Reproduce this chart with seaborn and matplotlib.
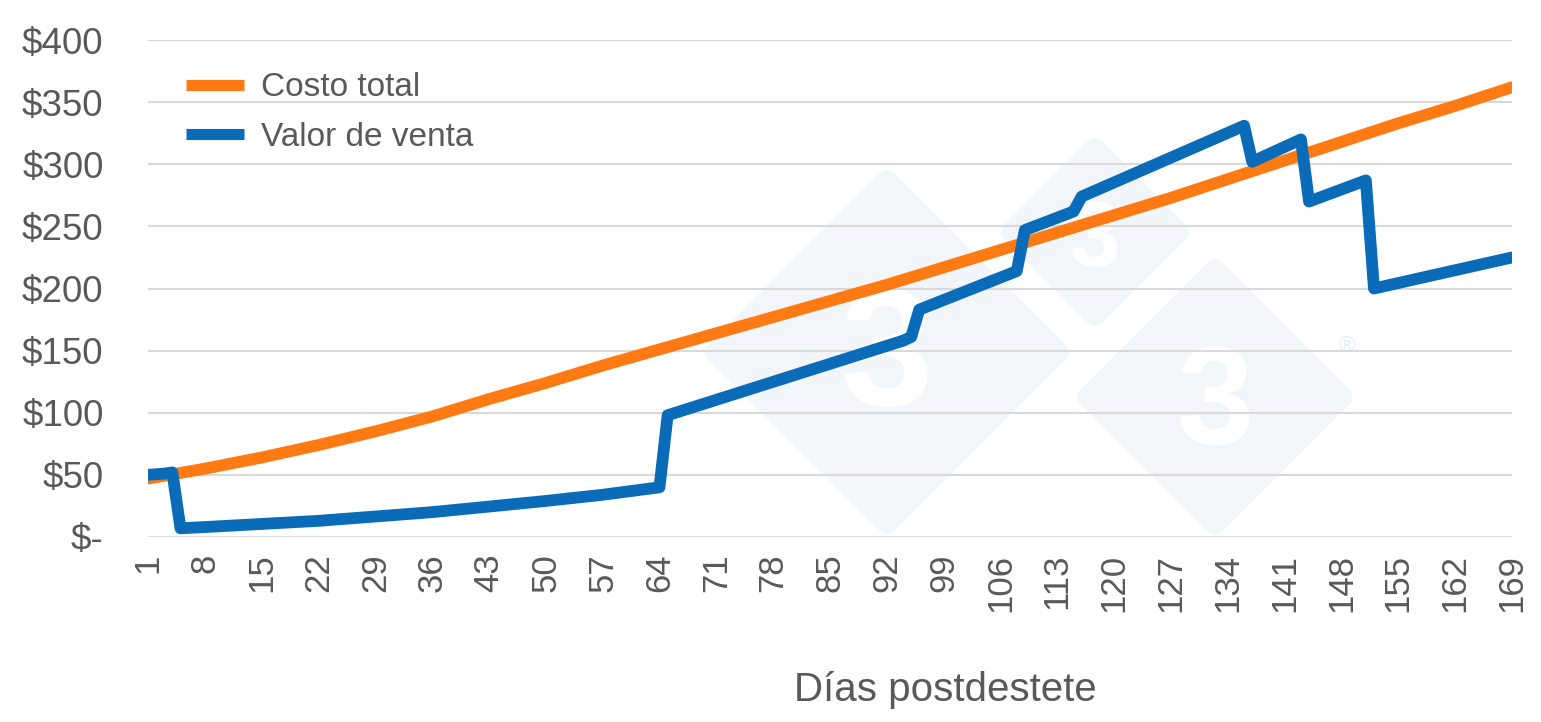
"""Costo total vs. valor de venta por día postdestete."""

import matplotlib
matplotlib.use('Agg')
import matplotlib.pyplot as plt
import matplotlib.patches as patches
import seaborn as sns

# ── Data ──────────────────────────────────────────────────────────────────────

COST_DAYS = [1, 8, 15, 22, 29, 36, 43, 50, 57, 64, 71, 78, 85, 92, 99, 106,
             113, 120, 127, 134, 141, 148, 155, 162, 169]
COST_VALUES = [47, 55, 64, 74, 85, 97, 111, 124, 138, 151, 164, 177, 190, 203,
               217, 231, 245, 259, 273, 288, 303, 318, 333, 347, 362]

SALE_DAYS = [1, 3, 4, 5, 8, 22, 36, 50, 57, 64, 65, 94, 95, 96, 108, 109,
             115, 116, 136, 137, 143, 144, 151, 152, 169]
SALE_VALUES = [50, 51, 52, 7, 8, 13, 20, 29, 34, 40, 98, 158, 161, 183, 214,
               247, 262, 274, 331, 302, 320, 270, 287, 200, 225]

X_TICKS = list(range(1, 170, 7))
Y_TICKS = [0, 50, 100, 150, 200, 250, 300, 350, 400]
Y_LABELS = ['$-', '$50', '$100', '$150', '$200', '$250', '$300', '$350', '$400']

ORANGE = '#FF7A12'
BLUE = '#0A6CB8'
TEXT = '#595959'
GRID = '#D9D9D9'

# ── Plot ──────────────────────────────────────────────────────────────────────

sns.set_theme(style='white')
plt.rcParams['font.family'] = ['Liberation Sans', 'DejaVu Sans']

fig = plt.figure(figsize=(15.41, 7.22), dpi=100)
ax = fig.add_axes([148 / 1541, 1 - 537 / 722, (1512 - 148) / 1541, (537 - 40) / 722])
ax.patch.set_alpha(0)
ax.set_zorder(5)

# faint "333" watermark behind the plot area
def _diamond(cx, cy, half):
    pts = [((cx - half) / 100, (722 - cy) / 100), (cx / 100, (722 - cy + half) / 100),
           ((cx + half) / 100, (722 - cy) / 100), (cx / 100, (722 - cy - half) / 100)]
    fig.patches.append(patches.Polygon(pts, closed=True, transform=fig.dpi_scale_trans,
                                       facecolor='#F2F6FA', edgecolor='#F2F6FA',
                                       linewidth=14, joinstyle='round', zorder=0))

for cx, cy, half, fs in [(887, 352, 172, 120), (1095, 232, 84, 66), (1215, 397, 128, 100)]:
    _diamond(cx, cy, half)
    fig.text(cx / 1541, 1 - (cy + 10) / 722, '3', color='white', fontsize=fs,
             fontweight='bold', ha='center', va='center', zorder=1)
fig.text(1347 / 1541, 1 - 346 / 722, '®', color='#E8EEF4', fontsize=16,
         ha='center', va='center', zorder=1)

ax.set_axisbelow(True)
ax.yaxis.grid(True, color=GRID, linewidth=1.5)
ax.xaxis.grid(False)

sns.lineplot(x=COST_DAYS, y=COST_VALUES, color=ORANGE, linewidth=8.5,
             label='Costo total', ax=ax, solid_joinstyle='round')
sns.lineplot(x=SALE_DAYS, y=SALE_VALUES, color=BLUE, linewidth=8.5,
             label='Valor de venta', ax=ax, solid_joinstyle='round')

ax.set_xlim(1, 169)
ax.set_ylim(0, 400)
ax.set_xticks(X_TICKS)
ax.set_xticklabels([str(d) for d in X_TICKS], rotation=90)
ax.set_yticks(Y_TICKS)
ax.set_yticklabels(Y_LABELS)
ax.tick_params(axis='both', length=0, labelcolor=TEXT)
ax.tick_params(axis='x', pad=12, labelsize=25)
ax.tick_params(axis='y', pad=32, labelsize=26.5)

for s in ax.spines.values():
    s.set_visible(False)

ax.set_xlabel('Días postdestete', fontsize=29, color=TEXT)
ax.xaxis.set_label_coords((945 - 148) / 1364, -(690 - 537) / 497)
ax.xaxis.label.set_va('center')
ax.set_ylabel('')

leg = ax.legend(loc='upper left', bbox_to_anchor=(0.018, 0.962), frameon=False,
                fontsize=24, handlelength=1.75, handletextpad=0.5,
                labelspacing=0.55, borderaxespad=0)
for t in leg.get_texts():
    t.set_color(TEXT)
for h in leg.get_lines():
    h.set_linewidth(8)
    h.set_solid_capstyle('butt')

fig.savefig('out.png', dpi=100)
